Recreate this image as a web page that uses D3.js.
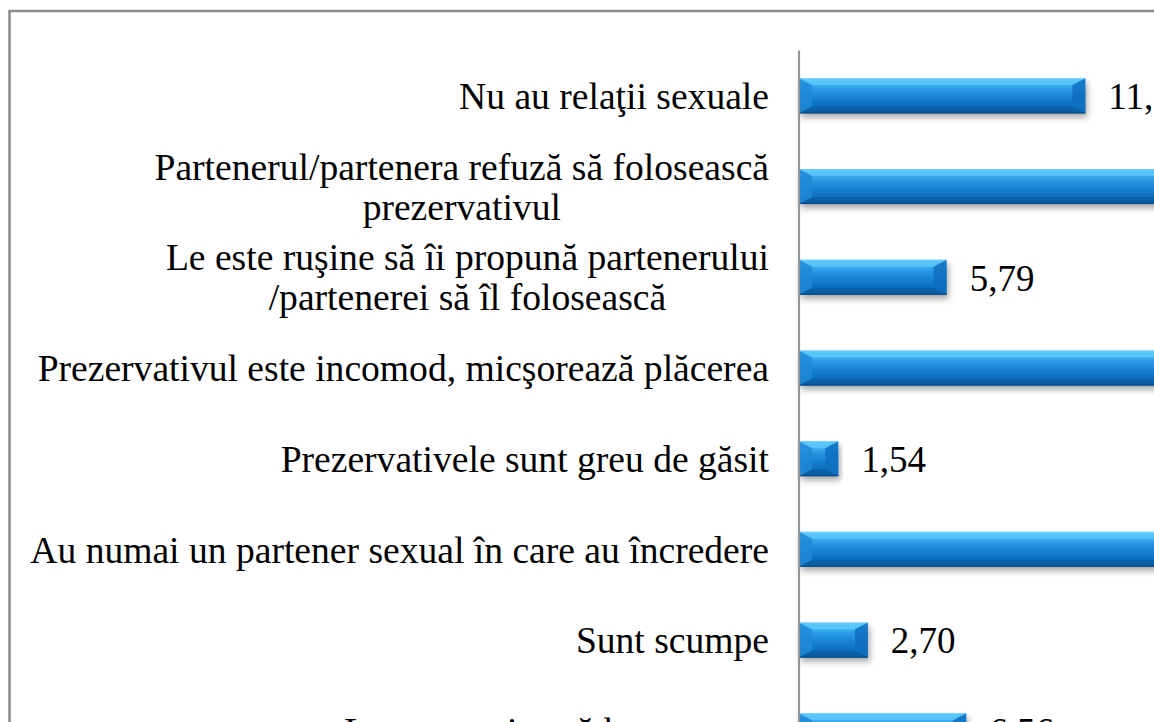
<!DOCTYPE html>
<html><head><meta charset="utf-8">
<script src="https://cdn.jsdelivr.net/npm/d3@7"></script>
<style>html,body{margin:0;padding:0;background:#fff;overflow:hidden}</style>
</head><body>
<svg id="chart" width="1154" height="722"></svg>
<script>
const categories = [
  "Nu au relaţii sexuale",
  "Partenerul/partenera refuză să folosească\nprezervativul",
  "Le este ruşine să îi propună partenerului\n/partenerei să îl folosească",
  "Prezervativul este incomod, micşorează plăcerea",
  "Prezervativele sunt greu de găsit",
  "Au numai un partener sexual în care au încredere",
  "Sunt scumpe",
  "Le este ruşine să le cumpere"
];
const values = [11.23, 16.21, 5.79, 22.39, 1.54, 38.61, 2.70, 6.56];
const valueLabels = ["11,23", "16,21", "5,79", "22,39", "1,54", "38,61", "2,70", "6,56"];

const svg = d3.select("#chart");
const labelFont = "'Liberation Serif','Times New Roman',serif";

const defs = svg.append("defs");
const g1 = defs.append("linearGradient").attr("id","barGrad").attr("x1",0).attr("y1",0).attr("x2",0).attr("y2",1);
[["0%","#8ad8ff"],["8%","#48bbf6"],["35%","#2796e2"],["60%","#147dcf"],["90%","#0c68b8"],["100%","#0a528c"]]
  .forEach(([o,c])=>g1.append("stop").attr("offset",o).attr("stop-color",c));
const f = defs.append("filter").attr("id","shadow").attr("x","-5%").attr("y","-30%").attr("width","115%").attr("height","190%");
f.append("feDropShadow").attr("dx",2).attr("dy",4).attr("stdDeviation",3).attr("flood-color","#000").attr("flood-opacity",0.35);

// frame
svg.append("rect").attr("x",9.5).attr("y",11).attr("width",1400).attr("height",900)
  .attr("fill","none").attr("stroke","#8c8c8c").attr("stroke-width",2.5);

const x0 = 799;
const x = d3.scaleLinear().domain([0, 40]).range([x0, x0 + 40 * 25.5]);
const y = d3.scaleBand().domain(categories).range([50.5, 50.5 + 90.7 * categories.length])
  .paddingInner(0.614).paddingOuter(0.307);

const bars = svg.append("g").selectAll("g.bar").data(categories).join("g").attr("class","bar");
const bevX = 13, bevY = 7;
bars.each(function(c, i){
  const gg = d3.select(this);
  const bx0 = x(0), bx1 = x(values[i]), by0 = y(c), by1 = y(c) + y.bandwidth();
  const bw = bx1 - bx0;
  const bx = Math.min(bevX, bw/2), byy = bevY;
  gg.append("rect").attr("x",bx0).attr("y",by0).attr("width",bw).attr("height",by1-by0)
    .attr("fill","url(#barGrad)").attr("filter","url(#shadow)");
  gg.append("polygon").attr("points",[[bx0,by0],[bx1,by0],[bx1-bx,by0+byy],[bx0+bx,by0+byy]].join(" "))
    .attr("fill","#5ec8fb").attr("opacity",0.75);
  gg.append("polygon").attr("points",[[bx0,by1],[bx1,by1],[bx1-bx,by1-byy],[bx0+bx,by1-byy]].join(" "))
    .attr("fill","#0a5da3").attr("opacity",0.8);
  gg.append("polygon").attr("points",[[bx0,by0],[bx0+bx,by0+byy],[bx0+bx,by1-byy],[bx0,by1]].join(" "))
    .attr("fill","#1f8ad8").attr("opacity",0.85);
  gg.append("polygon").attr("points",[[bx1,by0],[bx1-bx,by0+byy],[bx1-bx,by1-byy],[bx1,by1]].join(" "))
    .attr("fill","#0f6fbf").attr("opacity",0.85);
  gg.append("line").attr("x1",bx0).attr("x2",bx1).attr("y1",by1-0.5).attr("y2",by1-0.5)
    .attr("stroke","#0b4a80").attr("stroke-width",1);
});

// axis line
svg.append("line").attr("x1",x0).attr("x2",x0).attr("y1",y.range()[0]).attr("y2",y.range()[1])
  .attr("stroke","#969696").attr("stroke-width",2.2);

// category labels
const labG = svg.append("g");
const labelRight = 769, lineH = 40;
categories.forEach((c, i) => {
  const lines = c.split("\n");
  const cy = y(c) + y.bandwidth()/2;
  const t = labG.append("text").attr("font-family",labelFont).attr("font-size",37.6).attr("fill","#000")
    .attr("text-anchor","middle");
  lines.forEach((ln, k) => {
    t.append("tspan").text(ln)
      .attr("y", cy + (k - (lines.length-1)/2) * lineH).attr("dy","0.35em");
  });
  const maxW = d3.max(t.selectAll("tspan").nodes(), n => n.getComputedTextLength());
  t.selectAll("tspan").attr("x", labelRight - maxW/2);
});

// value labels
svg.append("g").selectAll("text").data(categories).join("text")
  .attr("x",(c,i)=>x(values[i]) + 23)
  .attr("y",c=>y(c)+y.bandwidth()/2).attr("dy","0.36em")
  .attr("font-family",labelFont).attr("font-size",37).attr("fill","#000")
  .text((c,i)=>valueLabels[i]);
</script>
</body></html>
